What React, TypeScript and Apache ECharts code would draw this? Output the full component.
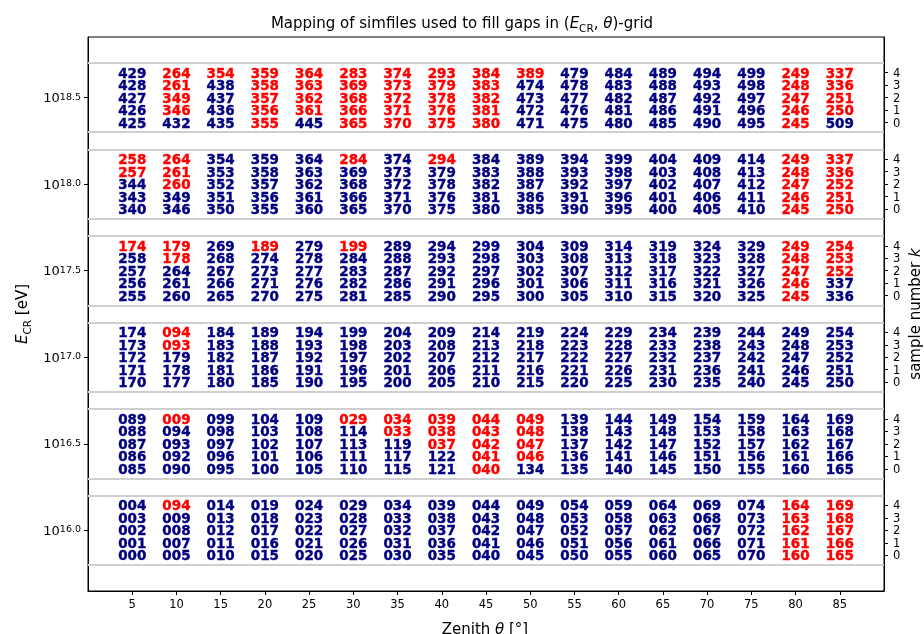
import React, { useEffect, useRef } from "react";
import * as echarts from "echarts";

const zeniths = [5, 10, 15, 20, 25, 30, 35, 40, 45, 50, 55, 60, 65, 70, 75, 80, 85];
const energyExponents = [16.0, 16.5, 17.0, 17.5, 18.0, 18.5];
const sampleNumbers = [0, 1, 2, 3, 4];

// One entry per zenith bin: simfile ids for k = 0..4; "*" marks a file borrowed from another bin.
const simfiles16_0 = [
  "000 001 002 003 004", "005 007 008 009 094*", "010 011 012 013 014", "015 016 017 018 019",
  "020 021 022 023 024", "025 026 027 028 029", "030 031 032 033 034", "035 036 037 038 039",
  "040 041 042 043 044", "045 046 047 048 049", "050 051 052 053 054", "055 056 057 058 059",
  "060 061 062 063 064", "065 066 067 068 069", "070 071 072 073 074",
  "160* 161* 162* 163* 164*", "165* 166* 167* 168* 169*",
];
const simfiles16_5 = [
  "085 086 087 088 089", "090 092 093 094 009*", "095 096 097 098 099", "100 101 102 103 104",
  "105 106 107 108 109", "110 111 113 114 029*", "115 117 119 033* 034*", "121 122 037* 038* 039*",
  "040* 041* 042* 043* 044*", "134 046* 047* 048* 049*", "135 136 137 138 139", "140 141 142 143 144",
  "145 146 147 148 149", "150 151 152 153 154", "155 156 157 158 159",
  "160 161 162 163 164", "165 166 167 168 169",
];
const simfiles17_0 = [
  "170 171 172 173 174", "177 178 179 093* 094*", "180 181 182 183 184", "185 186 187 188 189",
  "190 191 192 193 194", "195 196 197 198 199", "200 201 202 203 204", "205 206 207 208 209",
  "210 211 212 213 214", "215 216 217 218 219", "220 221 222 223 224", "225 226 227 228 229",
  "230 231 232 233 234", "235 236 237 238 239", "240 241 242 243 244",
  "245 246 247 248 249", "250 251 252 253 254",
];
const simfiles17_5 = [
  "255 256 257 258 174*", "260 261 264 178* 179*", "265 266 267 268 269", "270 271 273 274 189*",
  "275 276 277 278 279", "281 282 283 284 199*", "285 286 287 288 289", "290 291 292 293 294",
  "295 296 297 298 299", "300 301 302 303 304", "305 306 307 308 309", "310 311 312 313 314",
  "315 316 317 318 319", "320 321 322 323 324", "325 326 327 328 329",
  "245* 246* 247* 248* 249*", "336 337 252* 253* 254*",
];
const simfiles18_0 = [
  "340 343 344 257* 258*", "346 349 260* 261* 264*", "350 351 352 353 354", "355 356 357 358 359",
  "360 361 362 363 364", "365 366 368 369 284*", "370 371 372 373 374", "375 376 378 379 294*",
  "380 381 382 383 384", "385 386 387 388 389", "390 391 392 393 394", "395 396 397 398 399",
  "400 401 402 403 404", "405 406 407 408 409", "410 411 412 413 414",
  "245* 246* 247* 248* 249*", "250* 251* 252* 336* 337*",
];
const simfiles18_5 = [
  "425 426 427 428 429", "432 346* 349* 261* 264*", "435 436 437 438 354*", "355* 356* 357* 358* 359*",
  "445 361* 362* 363* 364*", "365* 366* 368* 369* 283*", "370* 371* 372* 373* 374*", "375* 376* 378* 379* 293*",
  "380* 381* 382* 383* 384*", "471 472 473 474 389*", "475 476 477 478 479", "480 481 482 483 484",
  "485 486 487 488 489", "490 491 492 493 494", "495 496 497 498 499",
  "245* 246* 247* 248* 249*", "509 250* 251* 336* 337*",
];
const simfileGrid = [simfiles16_0, simfiles16_5, simfiles17_0, simfiles17_5, simfiles18_0, simfiles18_5];

const SAMPLE_STEP = 0.072; // log10(E) offset between neighbouring k rows
const BAND_HALF = 0.2; // separator lines sit this far from each band centre
const NAVY = "#000080";
const RED = "#ff0000";
const FONT = "DejaVu Sans";

const sampleOffset = (e: number, k: number) => e + (k - 2) * SAMPLE_STEP;

export default function App() {
  const ref = useRef<HTMLDivElement>(null);

  useEffect(() => {
    const chart = echarts.init(ref.current!, null, { renderer: "svg" });

    const points: any[] = [];
    energyExponents.forEach((e, bi) => {
      simfileGrid[bi].forEach((col, zi) => {
        col.split(" ").forEach((tok, k) => {
          const borrowed = tok.endsWith("*");
          const id = borrowed ? tok.slice(0, -1) : tok;
          const c = borrowed ? RED : NAVY;
          points.push({
            name: id,
            value: [zeniths[zi], sampleOffset(e, sampleNumbers[k])],
            label: { color: c, textBorderColor: c },
          });
        });
      });
    });

    const separators: any[] = [];
    energyExponents.forEach((e) => {
      separators.push({ yAxis: e - BAND_HALF });
      separators.push({ yAxis: e + BAND_HALF });
    });

    const kTicks = energyExponents.flatMap((e) => sampleNumbers.map((k) => sampleOffset(e, k)));

    const base = { fontFamily: FONT, color: "#000" };
    const labelRich = {
      n: { ...base, fontSize: 15, verticalAlign: "bottom", lineHeight: 18 },
      i: { ...base, fontSize: 15, fontStyle: "italic", verticalAlign: "bottom", lineHeight: 18 },
      sub: { ...base, fontSize: 10.5, verticalAlign: "bottom", lineHeight: 10, padding: [0, 0, -3, 0] },
    };
    const centred = { align: "center", verticalAlign: "middle", textAlign: "center", textVerticalAlign: "middle" };

    chart.setOption({
      animation: false,
      textStyle: { fontFamily: FONT },
      grid: { left: 88, right: 40, top: 37, bottom: 43, show: true, borderColor: "#000", borderWidth: 1, containLabel: false, outerBoundsMode: "none" },
      xAxis: {
        type: "value",
        min: 0,
        max: 90,
        splitLine: { show: false },
        axisLine: { show: true, lineStyle: { color: "#000", width: 1 } },
        axisTick: { show: true, length: 4, customValues: zeniths, lineStyle: { color: "#000" } },
        axisLabel: { customValues: zeniths, color: "#000", fontSize: 11.5, fontFamily: FONT, margin: 7 },
      },
      yAxis: [
        {
          type: "value",
          min: 15.65,
          max: 18.85,
          splitLine: { show: false },
          axisLine: { show: true, lineStyle: { color: "#000", width: 1 } },
          axisTick: { show: true, length: 4, customValues: energyExponents, lineStyle: { color: "#000" } },
          axisLabel: {
            customValues: energyExponents,
            margin: 7,
            formatter: (v: number) => `{b|10}{s|${v.toFixed(1)}}`,
            rich: {
              b: { ...base, fontSize: 13, verticalAlign: "bottom", lineHeight: 13 },
              s: { ...base, fontSize: 9.5, verticalAlign: "top", lineHeight: 9.5, padding: [0, 0, 6, 0] },
            },
          },
        },
        {
          type: "value",
          position: "right",
          min: 15.65,
          max: 18.85,
          splitLine: { show: false },
          axisLine: { show: true, lineStyle: { color: "#000", width: 1 } },
          axisTick: { show: true, length: 4, customValues: kTicks, lineStyle: { color: "#000" } },
          axisLabel: {
            customValues: kTicks,
            color: "#000",
            fontSize: 11.5,
            fontFamily: FONT,
            margin: 9,
            formatter: (v: number) => {
              const e = Math.round(v * 2) / 2;
              return String(Math.round((v - e) / SAMPLE_STEP + 2));
            },
          },
        },
      ],
      series: [
        {
          type: "scatter",
          symbolSize: 0,
          itemStyle: { color: NAVY, opacity: 1 },
          data: points,
          label: {
            show: true,
            position: "inside",
            formatter: (p: any) => p.name,
            fontFamily: FONT,
            fontWeight: "bold",
            fontSize: 13.5,
            opacity: 1,
            textBorderWidth: 0.4,
          },
          markLine: {
            silent: true,
            symbol: ["none", "none"],
            label: { show: false },
            lineStyle: { color: "#cfcfcf", width: 2, type: "solid" },
            data: separators,
          },
        },
      ],
      graphic: [
        {
          type: "text",
          x: 462,
          y: 21,
          style: {
            text: "{n|Mapping of simfiles used to fill gaps in (}{i|E}{sub|CR}{n|, }{i|θ}{n|)-grid}",
            rich: labelRich,
            ...centred,
          },
        },
        {
          type: "text",
          x: 20,
          y: 314,
          rotation: Math.PI / 2,
          style: { text: "{i|E}{sub|CR}{n| [eV]}", rich: labelRich, ...centred },
        },
        {
          type: "text",
          x: 913,
          y: 314,
          rotation: Math.PI / 2,
          style: { text: "{n|sample number }{i|k}", rich: labelRich, ...centred },
        },
        {
          type: "text",
          x: 485,
          y: 627,
          style: { text: "{n|Zenith }{i|θ}{n| [°]}", rich: labelRich, ...centred },
        },
      ],
    });

    return () => chart.dispose();
  }, []);

  return <div ref={ref} style={{ position: "fixed", left: 0, top: 0, width: 924, height: 634 }} />;
}
